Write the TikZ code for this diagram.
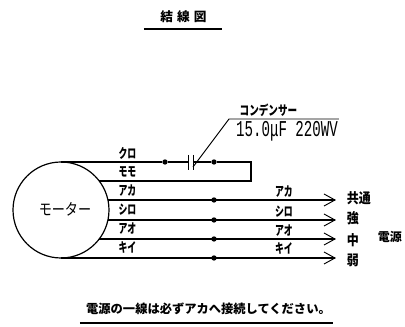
\documentclass[tikz,border=0pt]{standalone}
\usepackage{fontspec}
\setmainfont{Liberation Sans}
\newfontfamily\cjk{Noto Sans CJK JP}
\newfontfamily\monof{Liberation Mono}
\newcommand{\nar}[1]{\scalebox{0.74}[1.1]{#1}}
\newcommand{\sidet}[1]{\scalebox{0.9}[1.05]{#1}}
\tikzset{
  wire/.style={line width=1pt,black},
  thin line/.style={line width=0.7pt,black},
  dot/.style={circle,fill=black,inner sep=0pt,minimum size=4pt},
  lab/.style={inner sep=0pt,font=\cjk\bfseries\fontsize{9}{9}\selectfont},
  side/.style={inner sep=0pt,font=\cjk\bfseries\fontsize{10}{10}\selectfont},
}
\begin{document}
\begin{tikzpicture}[x=0.75pt,y=-0.75pt]
\useasboundingbox (0,0) rectangle (405,327);
% title
\node[inner sep=0pt,font=\cjk\bfseries\fontsize{9.5}{10}\selectfont] (title) at (183.5,17) {結\hspace{3pt}線\hspace{3pt}図};
\coordinate (tl) at (144,29); \coordinate (tr) at (222,29);
\draw[wire] (tl) -- (tr);
% motor
\node[circle,draw,line width=0.9pt,minimum size=72pt,inner sep=0pt] (motor) at (61,210) {};
\node[inner sep=0pt,font=\cjk\fontsize{12}{12}\selectfont] (mlabel) at (65,209) {\scalebox{0.82}[1]{モーター}};
% coordinates
\coordinate (k0) at (61,162); \coordinate (c1) at (188,162); \coordinate (c2) at (193,162);
\coordinate (rt) at (251,162); \coordinate (rb) at (251,181); \coordinate (m0) at (99,181);
\node[dot] (dk) at (165,162) {};
\node[dot] (dr) at (214,162) {};
\draw[wire] (k0) -- (dk) -- (c1);
\draw[wire] (c2) -- (dr) -- (rt) -- (rb) -- (m0);
\coordinate (p1a) at (188,155); \coordinate (p1b) at (188,170);
\coordinate (p2a) at (193,155); \coordinate (p2b) at (193,170);
\draw[thin line] (p1a) -- (p1b);
\draw[thin line] (p2a) -- (p2b);
% leader
\coordinate (l0) at (193,167); \coordinate (l1) at (229,119); \coordinate (l2) at (339,119);
\draw[thin line] (l0) -- (l1) -- (l2);
\node[inner sep=0pt,font=\cjk\bfseries\fontsize{9}{9}\selectfont] (cname) at (268.5,110) {\scalebox{0.8}[1.1]{コンデンサー}};
\node[inner sep=0pt,font=\monof\fontsize{10.6}{11}\selectfont] (cval) at (287,131.5) {\scalebox{1}[1.6]{15.0μF 220WV}};
% feeds
\coordinate (a0) at (108,200); \coordinate (a1) at (335,200);
\coordinate (s0) at (108,220); \coordinate (s1) at (335,220);
\coordinate (o0) at (99,239); \coordinate (o1) at (335,239);
\coordinate (y0) at (61,258);  \coordinate (y1) at (335,258);
\node[dot] (da) at (214,200) {};
\node[dot] (ds) at (214,220) {};
\node[dot] (do) at (214,239) {};
\node[dot] (dy) at (214,258) {};
\draw[wire] (a0) -- (a1);
\draw[wire] (s0) -- (s1);
\draw[wire] (o0) -- (o1);
\draw[wire] (y0) -- (y1);
\foreach \t in {a1,s1,o1,y1}
  \draw[thin line] ([shift={(-11,-6)}]\t) -- (\t) -- ([shift={(-11,6)}]\t);
% labels
\node[lab] (l1a) at (127.5,153) {\nar{クロ}};
\node[lab] (l1b) at (127.5,172) {\nar{モモ}};
\node[lab] (l1c) at (127.5,191) {\nar{アカ}};
\node[lab] (l1d) at (127.5,210) {\nar{シロ}};
\node[lab] (l1e) at (127.5,229) {\nar{アオ}};
\node[lab] (l1f) at (127.5,248) {\nar{キイ}};
\node[lab] (r1) at (284,192) {\nar{アカ}};
\node[lab] (r2) at (284,212) {\nar{シロ}};
\node[lab] (r3) at (284,231) {\nar{アオ}};
\node[lab] (r4) at (284,249) {\nar{キイ}};
\node[side] (s1t) at (359,198) {\sidet{共通}};
\node[side] (s2t) at (353,218) {\sidet{強}};
\node[side] (s3t) at (353,240) {\sidet{中}};
\node[side] (s4t) at (353,260) {\sidet{弱}};
\node[inner sep=0pt,font=\cjk\bfseries\fontsize{9}{9}\selectfont] (pw) at (390,237) {電源};
% note
\node[inner sep=0pt,font=\cjk\bfseries\fontsize{9.2}{10}\selectfont] (note) at (208.5,309) {電源の一線は必ずアカへ接続してください。};
\coordinate (nl) at (80,323); \coordinate (nr) at (333,323);
\draw[wire] (nl) -- (nr);
\end{tikzpicture}
\end{document}
